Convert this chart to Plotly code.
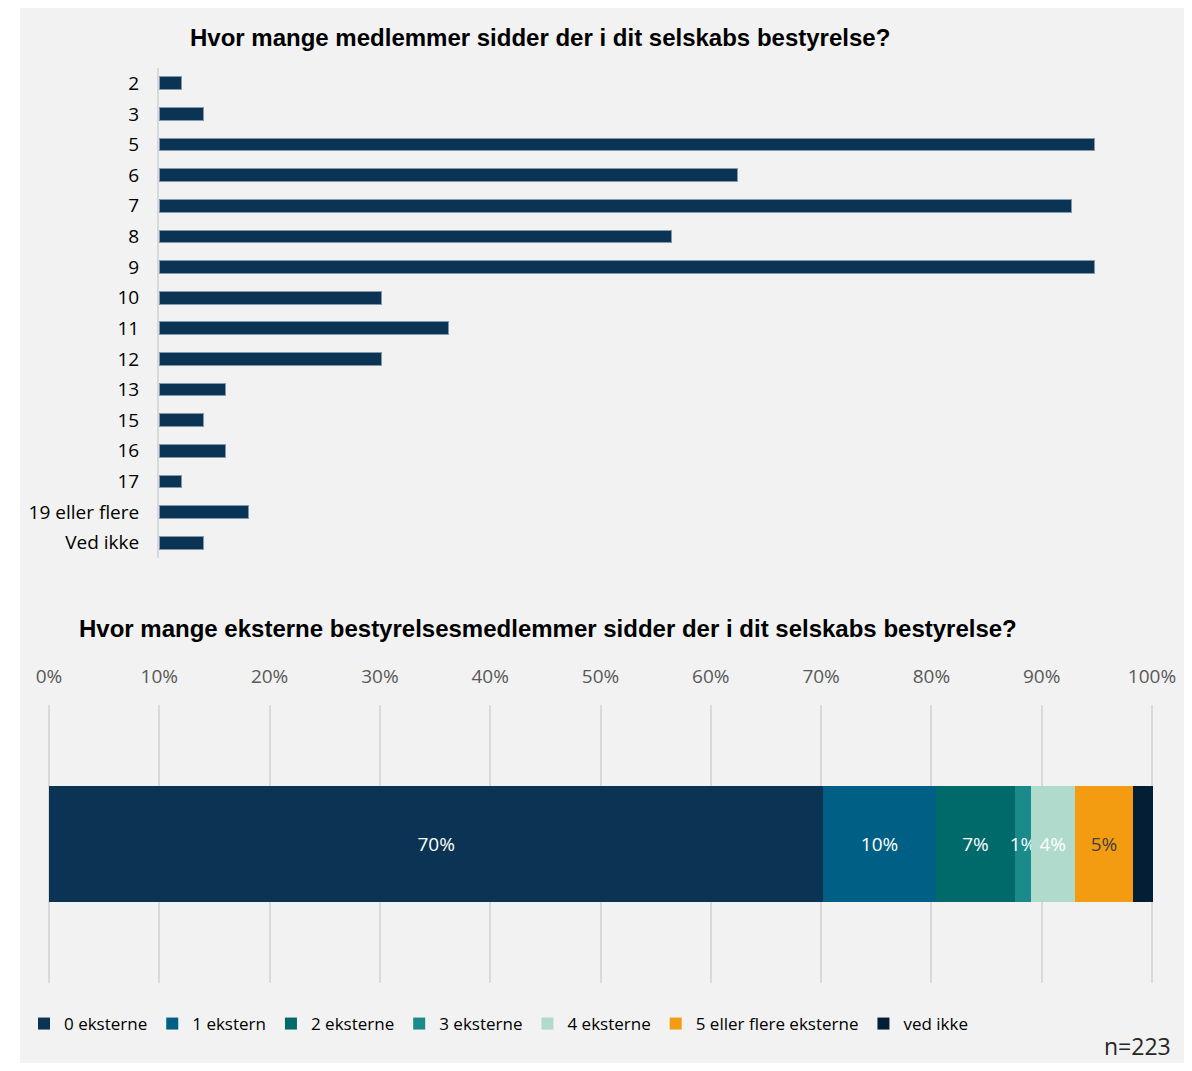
import plotly.graph_objects as go

# Page is rendered with the default 8px body margin, so the figure is sized to fill the window
W, H = 1176, 1055
OFF = 8

# Top chart data
board_sizes = ["2", "3", "5", "6", "7", "8", "9", "10", "11", "12", "13", "15", "16", "17", "19 eller flere", "Ved ikke"]
board_counts = [1, 2, 42, 26, 41, 23, 42, 10, 13, 10, 3, 2, 3, 1, 4, 2]

# Bottom chart data
ext_labels = ["0 eksterne", "1 ekstern", "2 eksterne", "3 eksterne", "4 eksterne", "5 eller flere eksterne", "ved ikke"]
ext_shares = [0.702, 0.102, 0.072, 0.014, 0.040, 0.053, 0.018]
ext_texts = ["70%", "10%", "7%", "1%", "4%", "5%", ""]
ext_colors = ["#0B3353", "#005F85", "#006A6A", "#1A8A8A", "#B0DACB", "#F39C12", "#041F35"]
ext_text_colors = ["white", "white", "white", "white", "white", "#404040", "white"]

FONT = "Open Sans"
TITLE_FONT = "Liberation Sans, Arial"


def px_x(p):
    v = (p - OFF) / W
    return min(max(v, 0), 1)


def px_y(p):
    v = 1 - (p - OFF) / H
    return min(max(v, 0), 1)


fig = go.Figure()

fig.add_trace(go.Bar(
    x=board_counts, y=board_sizes, orientation="h",
    marker=dict(color="#0B3353", line=dict(color="#8299AC", width=1)),
    xaxis="x", yaxis="y", showlegend=False, hoverinfo="x+y",
))

for lab, val, txt, col, tcol in zip(ext_labels, ext_shares, ext_texts, ext_colors, ext_text_colors):
    fig.add_trace(go.Bar(
        x=[val], y=[""], orientation="h", name=lab,
        marker=dict(color=col, line=dict(width=0)),
        text=[txt], textposition="inside", insidetextanchor="middle",
        textangle=0,
        textfont=dict(color=tcol, size=19, family=FONT),
        constraintext="none",
        xaxis="x2", yaxis="y2",
    ))

unit_px = 935 / 42  # pixels per respondent on the top chart
top_x0, top_x1 = 159, 1159

# bottom axis: 0..1 spans page px 49..1152; pad a few px so edge gridlines are drawn
b_x0, b_x1, pad = 49, 1152, 3
b_span = b_x1 - b_x0

fig.update_layout(
    width=W, height=H,
    margin=dict(l=0, r=0, t=0, b=0, autoexpand=False),
    paper_bgcolor="white",
    plot_bgcolor="rgba(0,0,0,0)",
    barmode="stack",
    bargap=0.58,
    uniformtext=dict(mode="show", minsize=19),
    font=dict(family=FONT, size=19, color="#000000"),
    xaxis=dict(domain=[px_x(top_x0), px_x(top_x1)], range=[0, (top_x1 - top_x0) / unit_px],
               visible=False, anchor="y", automargin=False),
    yaxis=dict(domain=[px_y(558), px_y(68)], autorange="reversed", showline=True,
               linecolor="#D9D9D9", linewidth=2, showgrid=False, ticks="",
               ticklabelstandoff=14, tickfont=dict(size=19, color="#000000", family=FONT),
               anchor="x", type="category", automargin=False),
    xaxis2=dict(domain=[px_x(b_x0 - pad), px_x(b_x1 + pad)],
                range=[-pad / b_span, 1 + pad / b_span], side="top", tick0=0, dtick=0.1,
                tickformat=".0%", showgrid=True, gridcolor="#D9D9D9", gridwidth=2,
                zeroline=True, zerolinecolor="#D9D9D9", zerolinewidth=2,
                showline=False, ticks="", ticklabelstandoff=17,
                tickfont=dict(size=19, color="#595959", family=FONT), anchor="y2",
                automargin=False),
    yaxis2=dict(domain=[px_y(983), px_y(705)], visible=False, anchor="x2", automargin=False),
    legend=dict(orientation="h", x=px_x(24), y=px_y(1024), xanchor="left", yanchor="middle",
                font=dict(size=17, family=FONT, color="#000000"), traceorder="normal",
                bgcolor="rgba(0,0,0,0)", itemwidth=30, tracegroupgap=0),
    shapes=[dict(type="rect", xref="paper", yref="paper", x0=px_x(20), x1=1,
                 y0=0, y1=1, fillcolor="#F2F2F2", line=dict(width=0), layer="below")],
    annotations=[
        dict(text="<b>Hvor mange medlemmer sidder der i dit selskabs bestyrelse?</b>",
             x=px_x(540), y=px_y(38), xref="paper", yref="paper", showarrow=False,
             xanchor="center", yanchor="middle",
             font=dict(family=TITLE_FONT, size=24, color="#000000")),
        dict(text="<b>Hvor mange eksterne bestyrelsesmedlemmer sidder der i dit selskabs bestyrelse?</b>",
             x=px_x(548), y=px_y(628), xref="paper", yref="paper", showarrow=False,
             xanchor="center", yanchor="middle",
             font=dict(family=TITLE_FONT, size=24, color="#000000")),
        dict(text="n=223", x=px_x(1173), y=px_y(1046), xref="paper", yref="paper",
             showarrow=False, xanchor="right", yanchor="middle",
             font=dict(family=FONT, size=23, color="#262626")),
    ],
)

fig.write_html("out.html")
